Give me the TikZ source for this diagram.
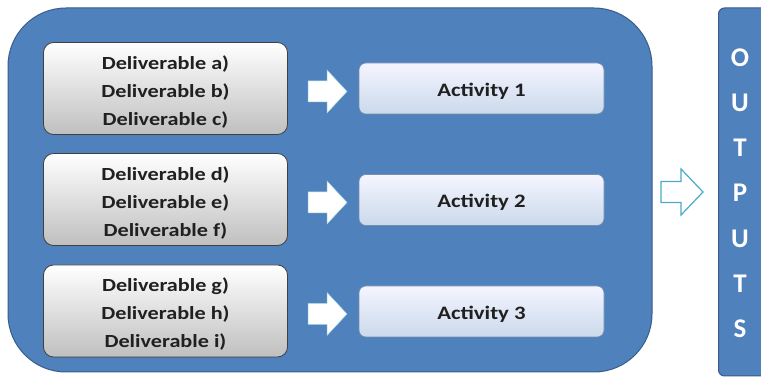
\documentclass[tikz,border=0pt]{standalone}
\usepackage{fontspec}
\setmainfont{Carlito}
\newfontfamily\widefont[FakeStretch=1.2]{Carlito}
\definecolor{mainblue}{HTML}{4F81BD}
\definecolor{darkblue}{HTML}{385D8A}
\definecolor{arrowteal}{HTML}{4BACC6}
\definecolor{txtgray}{HTML}{202020}
\tikzset{
  delbox/.style={draw=black!75, line width=0.8pt, rounded corners=10pt, top color=white, bottom color=black!25,
    minimum width=244pt, minimum height=92pt, align=center, inner sep=0pt,
    font=\widefont\bfseries\fontsize{18.5}{28}\selectfont, text=txtgray},
  actbox/.style={draw=darkblue!70, line width=0.6pt, rounded corners=7pt, top color=blue!4, bottom color=mainblue!30!white,
    minimum width=245pt, minimum height=51pt, inner sep=0pt, font=\widefont\bfseries\fontsize{19}{20}\selectfont, text=txtgray},
  wharrow/.style={fill=white, draw=arrowteal!50, line width=0.5pt},
  outarrow/.style={fill=white, draw=arrowteal, line width=1.2pt},
  outletter/.style={text=white, font=\bfseries\fontsize{27}{27}\selectfont},
}
\newcommand{\topstrut}{\rule{0pt}{20pt}}
\begin{document}
\begin{tikzpicture}[x=1pt,y=1pt]
\useasboundingbox (0,0) rectangle (761,380);
\clip (0,0) rectangle (761,380);
\fill[white] (0,0) rectangle (761,380);
% main panel
\node[draw=darkblue, line width=1pt, fill=mainblue, rounded corners=58pt, minimum width=644pt, minimum height=364pt, inner sep=0pt] (panel) at (330,190) {};
% outputs panel
\node[draw=darkblue, line width=1pt, fill=mainblue, rounded corners=6pt, minimum width=80pt, minimum height=368pt, inner sep=0pt, anchor=west] (outs) at (718,188) {};
% deliverables
\node[delbox] (d1) at (165.5,291.5) {\topstrut Deliverable a)\\Deliverable b)\\Deliverable c)};
\node[delbox] (d2) at (165.5,180.5) {\topstrut Deliverable d)\\Deliverable e)\\Deliverable f)};
\node[delbox] (d3) at (165.5,69) {\topstrut Deliverable g)\\Deliverable h)\\Deliverable i)};
% activities
\node[actbox] (a1) at (481.5,291.5) {\rule{0pt}{18pt}Activity 1};
\node[actbox] (a2) at (481.5,180) {\rule{0pt}{18pt}Activity 2};
\node[actbox] (a3) at (481.5,68.5) {\rule{0pt}{18pt}Activity 3};
% white block arrows
\foreach \c in {288.5,177.5,66}{
  \draw[wharrow] (308,\c-10.5) -- (327,\c-10.5) -- (327,\c-21.5) -- (347,\c) -- (327,\c+21.5) -- (327,\c+10.5) -- (308,\c+10.5) -- cycle;
}
% outline arrow
\draw[outarrow] (661,177.5) -- (681,177.5) -- (681,165) -- (703,188) -- (681,211) -- (681,198.5) -- (661,198.5) -- cycle;
% letters
\foreach \l/\y [count=\i] in {O/322, U/277, T/232, P/187, U/141, T/96, S/51}{
  \node[outletter] (L\i) at (740,\y) {\l};
}
\end{tikzpicture}
\end{document}
